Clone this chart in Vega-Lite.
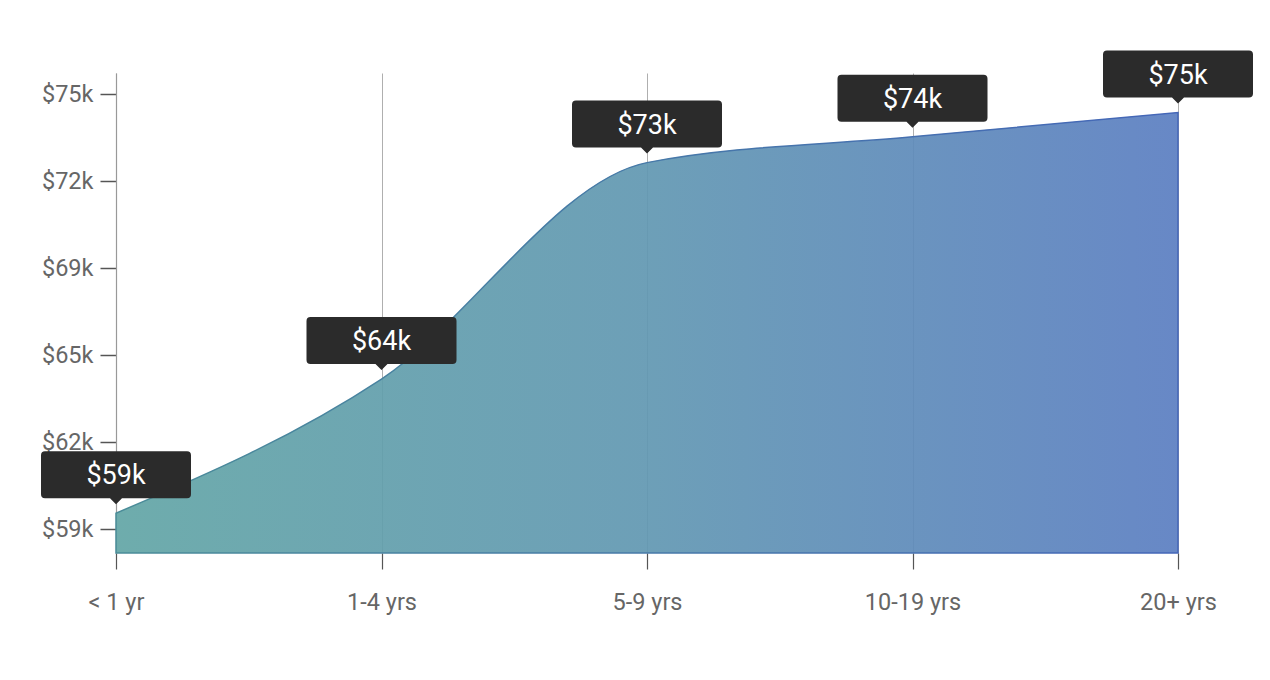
{
  "$schema": "https://vega.github.io/schema/vega-lite/v6.json",
  "autosize": {"type": "none"},
  "padding": {"left": 116, "top": 73, "right": 92, "bottom": 127},
  "width": 1062,
  "height": 480,
  "background": "white",
  "config": {
    "view": {"stroke": null},
    "font": "Roboto"
  },
  "data": {
    "values": [
      {"tenure": "< 1 yr", "salary": 59400},
      {"tenure": "1-4 yrs", "salary": 64490},
      {"tenure": "5-9 yrs", "salary": 72700},
      {"tenure": "10-19 yrs", "salary": 73680},
      {"tenure": "20+ yrs", "salary": 74600}
    ]
  },
  "encoding": {
    "x": {
      "field": "tenure",
      "type": "ordinal",
      "sort": null,
      "scale": {"type": "point", "padding": 0},
      "axis": {
        "title": null,
        "domain": false,
        "grid": true,
        "gridColor": "#9a9a9a",
        "gridWidth": 0.8,
        "ticks": true,
        "tickSize": 16,
        "tickColor": "#555555",
        "tickWidth": 1.2,
        "labelFont": "Roboto",
        "labelFontSize": 23.5,
        "labelColor": "#666666",
        "labelPadding": 21,
        "labelAngle": 0
      }
    },
    "y": {
      "field": "salary",
      "type": "quantitative",
      "scale": {"domain": [57890, 76100], "zero": false, "nice": false},
      "axis": {
        "title": null,
        "values": [58800, 62100, 65400, 68700, 72000, 75300],
        "format": "$.2s",
        "grid": false,
        "domain": true,
        "domainColor": "#999999",
        "domainWidth": 1.2,
        "tickSize": 16,
        "tickColor": "#555555",
        "tickWidth": 1.5,
        "labelFont": "Roboto",
        "labelFontSize": 23.5,
        "labelColor": "#666666",
        "labelPadding": 7
      }
    }
  },
  "layer": [
    {
      "mark": {
        "type": "area",
        "interpolate": "monotone",
        "fillOpacity": 0.93,
        "fill": {
          "gradient": "linear",
          "x1": 0, "x2": 1, "y1": 0, "y2": 0,
          "stops": [
            {"offset": 0, "color": "#63a6a6"},
            {"offset": 0.5, "color": "#6298b2"},
            {"offset": 1, "color": "#5c7fc2"}
          ]
        },
        "stroke": {
          "gradient": "linear",
          "x1": 0, "x2": 1, "y1": 0, "y2": 0,
          "stops": [
            {"offset": 0, "color": "#4a8c98"},
            {"offset": 1, "color": "#4466b8"}
          ]
        },
        "strokeWidth": 1.5
      },
      "encoding": {
        "y2": {"datum": 57890}
      }
    },
    {
      "mark": {
        "type": "point",
        "filled": true,
        "opacity": 1,
        "color": "#2b2b2b",
        "strokeWidth": 0,
        "size": 10000,
        "yOffset": -9,
        "shape": "M0,0 L-0.12,-0.12 L-1.42,-0.12 Q-1.5,-0.12 -1.5,-0.2 L-1.5,-0.98 Q-1.5,-1.06 -1.42,-1.06 L1.42,-1.06 Q1.5,-1.06 1.5,-0.98 L1.5,-0.2 Q1.5,-0.12 1.42,-0.12 L0.12,-0.12 Z"
      }
    },
    {
      "mark": {
        "type": "text",
        "color": "white",
        "font": "Roboto",
        "fontSize": 27,
        "align": "center",
        "baseline": "middle",
        "yOffset": -37
      },
      "encoding": {
        "text": {"field": "salary", "type": "quantitative", "format": "$.2s"}
      }
    }
  ]
}
